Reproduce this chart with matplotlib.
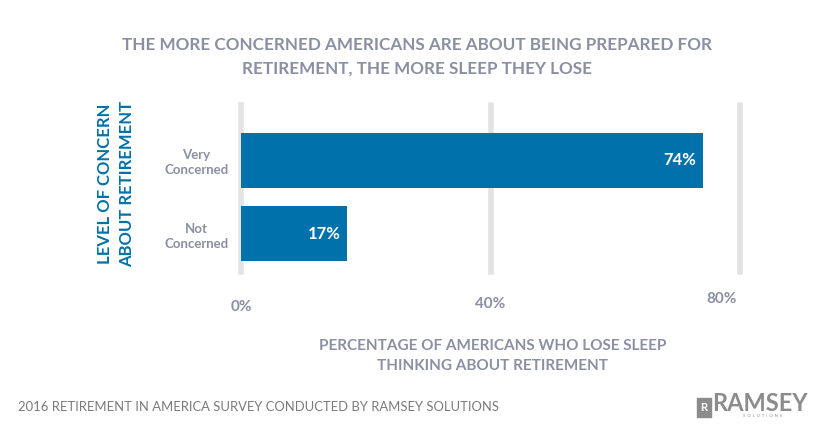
import numpy as np
import matplotlib.pyplot as plt
from matplotlib.patches import Rectangle
from matplotlib.transforms import ScaledTranslation

categories = ['Very\nConcerned', 'Not\nConcerned']
values = [74, 17]
xticks = [0, 40, 80]
xticklabels = ['0%', '40%', '80%']

BLUE = '#0071aa'
GRAY = '#8a8fa2'
GRID = '#e3e3e3'

plt.rcParams['font.family'] = ['Lato', 'DejaVu Sans']

fig = plt.figure(figsize=(8.35, 4.29), dpi=100)
W, H = 835, 429

def fx(px):
    return px / W

def fy(py):
    return 1 - py / H

ax = fig.add_axes([fx(241), fy(272), fx(740) - fx(241), fy(105) - fy(272)])
y = np.arange(len(categories))
bars = ax.barh(y, values, height=0.75, color=BLUE, zorder=3)
ax.set_xlim(0, 80)
ax.set_ylim(1.527, -0.76)

for v in xticks:
    ax.axvline(v, color=GRID, lw=4, zorder=1, clip_on=False)

for yi, v in zip(y, values):
    ax.text(v - 1.0, yi, f'{v}%', color='white', fontsize=12, fontweight='bold',
            ha='right', va='center', zorder=4)

ax.set_yticks(y)
ax.set_yticklabels(categories, fontsize=9.5, fontweight='bold', color=GRAY,
                   linespacing=1.3, ha='center')
ax.tick_params(axis='y', length=0, pad=32)
ax.set_xticks(xticks)
ax.set_xticklabels(xticklabels, fontsize=11, fontweight='bold', color=GRAY)
ax.tick_params(axis='x', length=0, pad=20)
# the source staggers the tick labels a little
shifts = [(0, 0), (0, 3), (-18, 8)]
for lab, (dx, dy) in zip(ax.get_xticklabels(), shifts):
    lab.set_transform(lab.get_transform() + ScaledTranslation(dx / 100, dy / 100, fig.dpi_scale_trans))
for s in ax.spines.values():
    s.set_visible(False)

fig.text(0.5, fy(57), 'THE MORE CONCERNED AMERICANS ARE ABOUT BEING PREPARED FOR\nRETIREMENT, THE MORE SLEEP THEY LOSE',
         ha='center', va='center', fontsize=12.3, fontweight='bold', color=GRAY, linespacing=1.6)

fig.text(fx(116), fy(184), 'LEVEL OF CONCERN\nABOUT RETIREMENT', rotation=90,
         ha='center', va='center', fontsize=12, fontweight='bold', color=BLUE, linespacing=1.45)

fig.text(fx(493), fy(356), 'PERCENTAGE OF AMERICANS WHO LOSE SLEEP\nTHINKING ABOUT RETIREMENT',
         ha='center', va='center', fontsize=11, fontweight='bold', color=GRAY, linespacing=1.6)

fig.text(fx(18), fy(407), '2016 RETIREMENT IN AMERICA SURVEY CONDUCTED BY RAMSEY SOLUTIONS',
         ha='left', va='center', fontsize=9.4, color='#7a7a7a')

# logo
fig.patches.append(Rectangle((fx(697), fy(417)), fx(14), fy(398) - fy(417),
                             transform=fig.transFigure, color='#8c8c8c'))
fig.text(fx(704), fy(407.5), 'R', ha='center', va='center', fontsize=8, fontweight='bold', color='white')
fig.text(fx(712), fy(411), 'RAMSEY', ha='left', va='baseline', fontsize=17, fontweight='bold', color='#8c8c8c')
fig.text(fx(763), fy(414), 'S  O  L  U  T  I  O  N  S', ha='center', va='top', fontsize=3, color='#8c8c8c')

fig.savefig('out.png', dpi=100)
